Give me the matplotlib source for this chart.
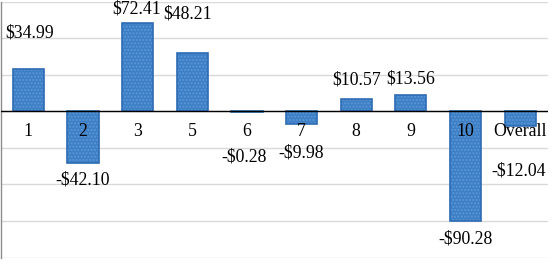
import matplotlib
matplotlib.use("Agg")
import matplotlib.pyplot as plt

categories = ["1", "2", "3", "5", "6", "7", "8", "9", "10", "Overall"]
values = [34.99, -42.10, 72.41, 48.21, -0.28, -9.98, 10.57, 13.56, -90.28, -12.04]
value_labels = ["$34.99", "-$42.10", "$72.41", "$48.21", "-$0.28", "-$9.98",
                "$10.57", "$13.56", "-$90.28", "-$12.04"]
# where each data label sits (data units)
label_y = [64.9, -56.7, 84.6, 80.0, -37.0, -34.5, 25.5, 27.0, -105.0, -48.5]
label_dx = [0.02, 0.0, -0.01, -0.08, -0.05, 0.0, 0.01, 0.0, 0.0, -0.02]

plt.rcParams['font.family'] = ['Liberation Serif', 'DejaVu Serif']
plt.rcParams['mathtext.default'] = 'regular'

fig = plt.figure(figsize=(5.52, 2.66), dpi=100)
ax = fig.add_axes([1.0 / 552, 1 - 257.5 / 266, 546.5 / 552, 255.5 / 266])

x = list(range(len(categories)))
face = '#3d7fc6'
edge = '#2d6cb4'
ax.bar(x, values, width=0.57, color=face, edgecolor='#5c97d4', hatch='.....',
       linewidth=0, zorder=2)
ax.bar(x, values, width=0.57, fill=False, edgecolor=edge, linewidth=1.2, zorder=3)

ax.set_xlim(-0.5, len(categories) - 0.5)
ax.set_ylim(-120, 90)
ax.set_yticks([-120, -90, -60, -30, 0, 30, 60, 90])
ax.yaxis.grid(True, color='#d9d9d9', linewidth=1.0, zorder=0)
ax.set_axisbelow(True)
ax.tick_params(axis='y', left=False, labelleft=False)
ax.set_xticks([])
ax.axhline(0, color='black', linewidth=1.0, zorder=4)

for s in ['top', 'right', 'bottom']:
    ax.spines[s].set_visible(False)
ax.spines['left'].set_color('#8c8c8c')
ax.spines['left'].set_linewidth(1.0)

fs = 12.8
for xi, cat in zip(x, categories):
    ax.annotate(cat, xy=(xi, 0), xytext=(0, -14.6), textcoords='offset points',
                ha='center', va='center', fontsize=fs, color='black', zorder=5)

for xi, lab, ly, dx in zip(x, value_labels, label_y, label_dx):
    ax.text(xi + dx, ly, lab.replace('$', r'\$'), ha='center', va='center',
            fontsize=fs, color='black', zorder=5)

fig.savefig('out.png', dpi=100)
